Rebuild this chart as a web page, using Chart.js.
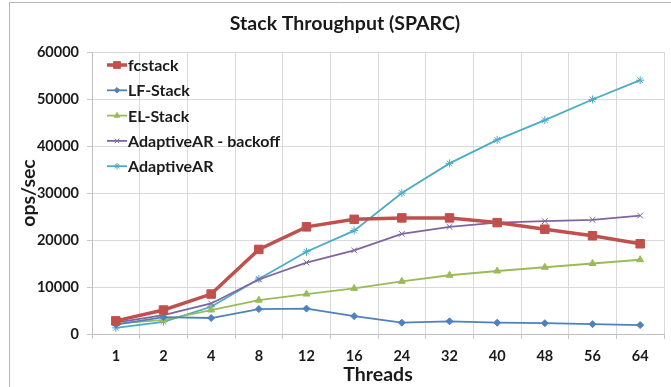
<!DOCTYPE html>
<html><head><meta charset="utf-8">
<script src="https://cdn.jsdelivr.net/npm/chart.js@4/dist/chart.umd.min.js"></script>
<style>html,body{margin:0;padding:0;background:#fff;overflow:hidden}#wrap{width:671px;height:387px;position:relative}</style>
</head><body><div id="wrap"><canvas id="c" width="671" height="387"></canvas></div>
<script>
const threads = ['1','2','4','8','12','16','24','32','40','48','56','64'];
const fcstack = [2800, 5100, 8500, 18000, 22800, 24400, 24700, 24700, 23700, 22300, 20900, 19200];
const lfStack = [2000, 3600, 3400, 5300, 5400, 3800, 2400, 2700, 2400, 2300, 2100, 1900];
const elStack = [2200, 3000, 5100, 7200, 8500, 9700, 11200, 12500, 13400, 14200, 15000, 15800];
const adaptiveBackoff = [2400, 4000, 6500, 11600, 15200, 17800, 21300, 22800, 23700, 24000, 24300, 25200];
const adaptiveAR = [1300, 2600, 5800, 11700, 17500, 22000, 30000, 36300, 41300, 45500, 49900, 54000];
const yTicks = [0, 10000, 20000, 30000, 40000, 50000, 60000];

const FONT = 'Lato, "Open Sans", sans-serif';
const TXT = '#1a1a1a';

const framePlugin = {
  id: 'frame',
  beforeDraw(chart) {
    const ctx = chart.ctx;
    ctx.save();
    ctx.strokeStyle = '#b4b4b4';
    ctx.lineWidth = 1;
    ctx.beginPath();
    ctx.moveTo(9.5, 387); ctx.lineTo(9.5, 2.5); ctx.lineTo(671, 2.5);
    ctx.stroke();
    ctx.restore();
  }
};

const legendPlugin = {
  id: 'innerLegend',
  afterDatasetsDraw(chart) {
    const ctx = chart.ctx;
    ctx.save();
    chart.data.datasets.forEach((ds, i) => {
      const y = 65 + i * 25.3;
      ctx.strokeStyle = ds.borderColor;
      ctx.lineWidth = ds.borderWidth;
      ctx.beginPath();
      ctx.moveTo(107, y); ctx.lineTo(127, y);
      ctx.stroke();
      ctx.fillStyle = ds.pointBackgroundColor;
      ctx.strokeStyle = ds.pointBorderColor;
      ctx.lineWidth = 1;
      Chart.helpers.drawPoint(ctx, {pointStyle: ds.pointStyle, radius: ds.pointRadius * 0.8, rotation: 0, borderWidth: 1}, 117, y);
      ctx.fillStyle = TXT;
      ctx.font = 'bold 16px ' + FONT;
      ctx.textBaseline = 'middle';
      ctx.textAlign = 'left';
      ctx.fillText(ds.label, 128, y + 1);
    });
    ctx.restore();
  }
};

function series(label, data, color, width, style, radius) {
  return {
    label, data,
    borderColor: color, backgroundColor: color,
    pointBackgroundColor: color, pointBorderColor: color,
    borderWidth: width, pointStyle: style, pointRadius: radius,
    pointBorderWidth: 1, tension: 0
  };
}

new Chart(document.getElementById('c'), {
  type: 'line',
  data: {
    labels: threads,
    datasets: [
      series('fcstack', fcstack, '#C0504D', 3.5, 'rect', 6),
      series('LF-Stack', lfStack, '#4F81BD', 1.8, 'rectRot', 3.5),
      series('EL-Stack', elStack, '#9BBB59', 1.8, 'triangle', 4),
      series('AdaptiveAR - backoff', adaptiveBackoff, '#8064A2', 1.8, 'crossRot', 4),
      series('AdaptiveAR', adaptiveAR, '#4BACC6', 1.8, 'star', 4)
    ]
  },
  options: {
    responsive: false,
    animation: false,
    layout: {padding: {left: 19, right: 0, top: 0, bottom: 0}},
    plugins: {
      legend: {display: false},
      tooltip: {enabled: false},
      title: {
        display: true,
        text: 'Stack Throughput (SPARC)',
        color: TXT,
        font: {family: FONT, size: 19.5, weight: 'bold', lineHeight: 1.2},
        padding: {top: 12.3, bottom: 16.3}
      }
    },
    scales: {
      x: {
        offset: true,
        grid: {color: '#d9d9d9', offset: true, drawTicks: true, tickLength: 5, tickColor: '#c8c8c8'},
        border: {color: '#bfbfbf'},
        ticks: {color: TXT, font: {family: FONT, size: 14.5, weight: 'bold'}, padding: 9, maxRotation: 0, autoSkip: false},
        title: {display: true, text: 'Threads', color: TXT, font: {family: FONT, size: 19.5, weight: 'bold', lineHeight: 1}, padding: {top: 0, bottom: 2.3}},
        afterFit(s) { s.height = 53; }
      },
      y: {
        min: 0, max: 60000,
        afterBuildTicks(s) { s.ticks = yTicks.map(v => ({value: v})); },
        grid: {color: '#d9d9d9', drawTicks: true, tickLength: 5, tickColor: '#c8c8c8'},
        border: {color: '#bfbfbf'},
        ticks: {color: TXT, font: {family: FONT, size: 14.5, weight: 'bold'}, padding: 8, callback: v => String(v)},
        title: {display: true, text: 'ops/sec', color: TXT, font: {family: FONT, size: 19.5, weight: 'bold', lineHeight: 1}, padding: 0},
        afterFit(s) { s.width = 73; }
      }
    }
  },
  plugins: [framePlugin, legendPlugin]
});
</script></body></html>
